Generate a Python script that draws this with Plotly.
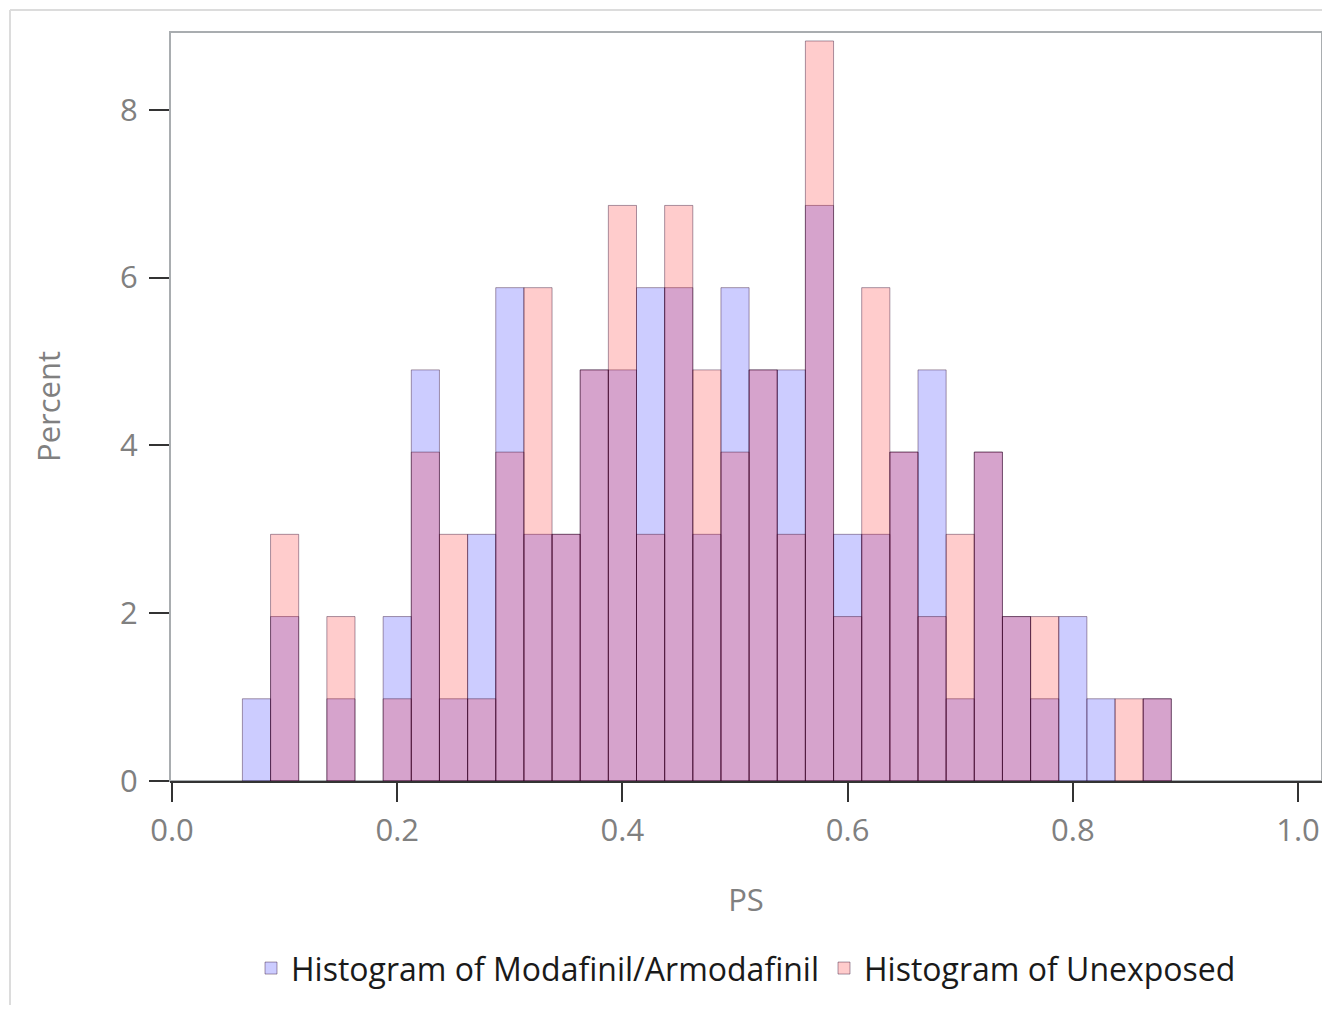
import plotly.graph_objects as go

# Bin centres (PS), bin width 0.025
bin_centers = [0.075, 0.1, 0.125, 0.15, 0.175, 0.2, 0.225, 0.25, 0.275, 0.3,
               0.325, 0.35, 0.375, 0.4, 0.425, 0.45, 0.475, 0.5, 0.525, 0.55,
               0.575, 0.6, 0.625, 0.65, 0.675, 0.7, 0.725, 0.75, 0.775, 0.8,
               0.825, 0.85, 0.875]

# Percent per bin, Modafinil/Armodafinil
modafinil_pct = [0.98, 1.96, 0, 0.98, 0, 1.96, 4.90, 0.98, 2.94, 5.88,
                 2.94, 2.94, 4.90, 4.90, 5.88, 5.88, 2.94, 5.88, 4.90, 4.90,
                 6.86, 2.94, 2.94, 3.92, 4.90, 0.98, 3.92, 1.96, 0.98, 1.96,
                 0.98, 0, 0.98]

# Percent per bin, Unexposed
unexposed_pct = [0, 2.94, 0, 1.96, 0, 0.98, 3.92, 2.94, 0.98, 3.92,
                 5.88, 2.94, 4.90, 6.86, 2.94, 6.86, 4.90, 3.92, 4.90, 2.94,
                 8.82, 1.96, 5.88, 3.92, 1.96, 2.94, 3.92, 1.96, 1.96, 0,
                 0, 0.98, 0.98]

x_ticks = [0.0, 0.2, 0.4, 0.6, 0.8, 1.0]
x_tick_labels = ["0.0", "0.2", "0.4", "0.6", "0.8", "1.0"]
y_ticks = [0, 2, 4, 6, 8]
y_tick_labels = ["0", "2", "4", "6", "8"]

bin_width = 0.025

FONT = "Open Sans"
GRAY = "#808080"
FS = 31

fig = go.Figure()
fig.add_trace(go.Bar(
    x=bin_centers, y=[v if v else None for v in modafinil_pct], width=bin_width,
    name="Histogram of Modafinil/Armodafinil",
    marker=dict(color="rgba(0,0,255,0.2)", line=dict(color="rgba(40,0,40,0.4)", width=1)),
))
fig.add_trace(go.Bar(
    x=bin_centers, y=[v if v else None for v in unexposed_pct], width=bin_width,
    name="Histogram of Unexposed",
    marker=dict(color="rgba(255,0,0,0.2)", line=dict(color="rgba(40,0,40,0.4)", width=1)),
))

fig.update_layout(
    width=1314, height=997,
    margin=dict(l=162, r=0, t=24, b=224, pad=0),
    paper_bgcolor="white", plot_bgcolor="white",
    barmode="overlay",
    font=dict(family=FONT, size=FS, color=GRAY),
    legend=dict(orientation="h", x=0.5, xanchor="center", y=-0.25, yanchor="middle",
                font=dict(family=FONT, size=32, color="#1a1a1a"),
                traceorder="normal", itemwidth=30),
    xaxis=dict(range=[-0.0018, 1.0213], tickvals=x_ticks, ticktext=x_tick_labels,
               showgrid=False, zeroline=False, showline=True, linecolor="#333333", linewidth=2,
               ticks="outside", ticklen=19, tickcolor="#333333", tickwidth=2,
               ticklabelstandoff=2,
               tickfont=dict(size=FS, color=GRAY),
               title=dict(text="PS", font=dict(size=FS, color=GRAY), standoff=40)),
    yaxis=dict(range=[0, 8.927], tickvals=y_ticks, ticktext=y_tick_labels,
               showgrid=False, zeroline=False, showline=False,
               ticks="outside", ticklen=20, tickcolor="#333333", tickwidth=2,
               ticklabelstandoff=5,
               tickfont=dict(size=FS, color=GRAY),
               title=dict(text="Percent", font=dict(size=FS, color=GRAY), standoff=50)),
    shapes=[
        dict(type="rect", xref="paper", yref="paper", x0=0, x1=1, y0=0, y1=1,
             line=dict(color="#a9adb0", width=2), layer="below"),
        dict(type="line", xref="paper", yref="paper", x0=-0.1389, x1=1.01, y0=1.0294, y1=1.0294,
             line=dict(color="#dcdcdc", width=2)),
        dict(type="line", xref="paper", yref="paper", x0=-0.1389, x1=-0.1389, y0=-0.31, y1=1.0294,
             line=dict(color="#dcdcdc", width=2)),
    ],
)

fig.write_html("out.html")
